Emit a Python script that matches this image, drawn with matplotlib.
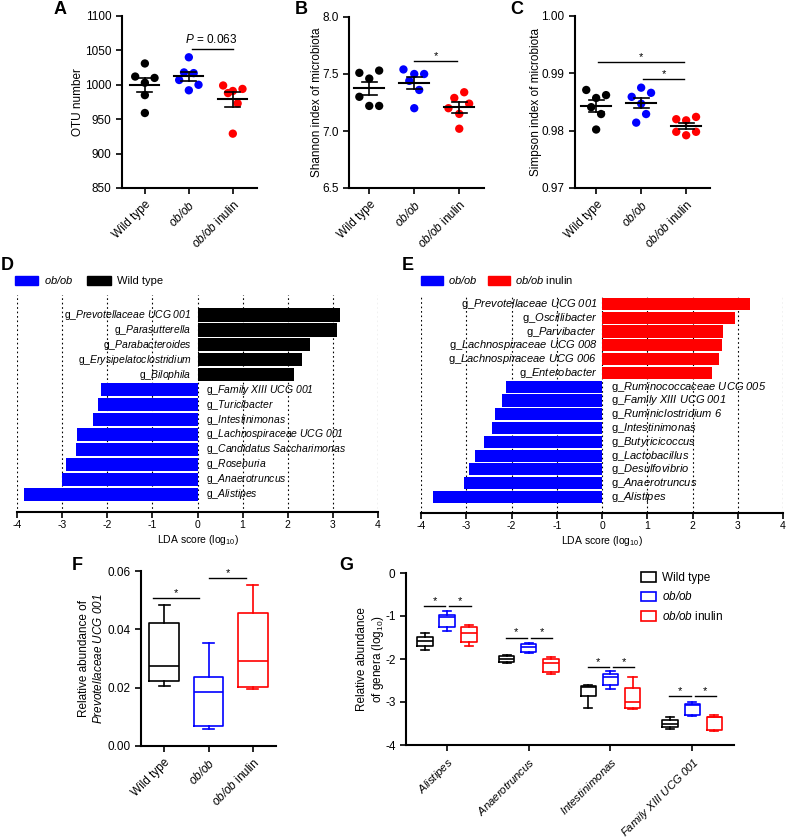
import numpy as np
import matplotlib.pyplot as plt
from matplotlib.patches import Patch

plt.rcParams['font.family'] = ['Liberation Sans', 'DejaVu Sans']
plt.rcParams['mathtext.fontset'] = 'custom'
plt.rcParams['mathtext.rm'] = 'Liberation Sans'
plt.rcParams['mathtext.it'] = 'Liberation Sans:italic'
plt.rcParams['mathtext.sf'] = 'Liberation Sans:italic'
plt.rcParams['mathtext.bf'] = 'Liberation Sans:bold'
plt.rcParams['axes.unicode_minus'] = False


def it(s):
    # italic via the sf slot so that digits and '/' are slanted too
    return r'$\mathsf{' + s.replace(' ', r'\ ') + '}$'


groups = ['Wild type', it('ob/ob'), it('ob/ob') + ' inulin']
colors = ['black', '#0000ff', '#ff0000']

# A: OTU number (6 mice per group)
otu_wt = [1031, 1012, 1010, 1003, 985, 959]
otu_ob = [1040, 1018, 1017, 1007, 1000, 992]
otu_inulin = [999, 994, 991, 988, 973, 929]
otu_spread = [[0, -0.22, 0.22, 0, 0, 0],
              [0, -0.11, 0.11, -0.22, 0.22, 0],
              [-0.22, 0.22, 0, -0.11, 0.11, 0]]

# B: Shannon index
shannon_wt = [7.51, 7.53, 7.46, 7.30, 7.22, 7.22]
shannon_ob = [7.54, 7.50, 7.50, 7.44, 7.36, 7.20]
shannon_inulin = [7.34, 7.29, 7.24, 7.20, 7.15, 7.02]
shannon_spread = [[-0.22, 0.22, 0, -0.22, 0, 0.22],
                  [-0.24, 0, 0.22, -0.11, 0.11, 0],
                  [0.11, -0.11, 0.22, -0.24, 0, 0]]

# C: Simpson index
simpson_wt = [0.9871, 0.9862, 0.9857, 0.9841, 0.9829, 0.9802]
simpson_ob = [0.9875, 0.9866, 0.9859, 0.9847, 0.9829, 0.9814]
simpson_inulin = [0.9824, 0.9820, 0.9818, 0.9798, 0.9798, 0.9792]
simpson_spread = [[-0.22, 0.22, 0, -0.11, 0.11, 0],
                  [0, 0.22, -0.21, 0, 0.11, -0.11],
                  [0.22, -0.22, 0, -0.22, 0.22, 0]]

# D: LEfSe ob/ob vs wild type
d_genera = ['Prevotellaceae UCG 001', 'Parasutterella', 'Parabacteroides',
            'Erysipelatoclostridium', 'Bilophila', 'Family XIII UCG 001',
            'Turicibacter', 'Intestinimonas', 'Lachnospiraceae UCG 001',
            'Candidatus Saccharimonas', 'Roseburia', 'Anaerotruncus', 'Alistipes']
d_lda = [3.15, 3.10, 2.49, 2.32, 2.13, -2.13, -2.21, -2.31, -2.68, -2.69,
         -2.92, -3.00, -3.85]

# E: LEfSe ob/ob vs ob/ob inulin
e_genera = ['Prevotellaceae UCG 001', 'Oscillibacter', 'Parvibacter',
            'Lachnospiraceae UCG 008', 'Lachnospiraceae UCG 006', 'Enterobacter',
            'Ruminococcaceae UCG 005', 'Family XIII UCG 001', 'Ruminiclostridium 6',
            'Intestinimonas', 'Butyricicoccus', 'Lactobacillus', 'Desulfovibrio',
            'Anaerotruncus', 'Alistipes']
e_lda = [3.28, 2.93, 2.67, 2.65, 2.58, 2.42, -2.12, -2.20, -2.37, -2.42,
         -2.61, -2.81, -2.94, -3.06, -3.73]

# F: Prevotellaceae UCG 001 relative abundance (min, q1, median, q3, max)
f_min = [0.0207, 0.0059, 0.0195]
f_q1 = [0.0223, 0.0069, 0.0203]
f_med = [0.0274, 0.0185, 0.0291]
f_q3 = [0.0422, 0.0237, 0.0456]
f_max = [0.0482, 0.0354, 0.0551]

# G: genera log10 abundance
g_genera = ['Alistipes', 'Anaerotruncus', 'Intestinimonas', 'Family XIII UCG 001']
g_wt_min = [-1.79, -2.10, -3.15, -3.63]
g_wt_q1 = [-1.70, -2.06, -2.87, -3.58]
g_wt_med = [-1.58, -2.01, -2.65, -3.51]
g_wt_q3 = [-1.48, -1.94, -2.62, -3.41]
g_wt_max = [-1.39, -1.90, -2.60, -3.34]
g_ob_min = [-1.35, -1.87, -2.69, -3.32]
g_ob_q1 = [-1.25, -1.83, -2.61, -3.30]
g_ob_med = [-1.03, -1.73, -2.41, -3.06]
g_ob_q3 = [-0.97, -1.66, -2.35, -3.04]
g_ob_max = [-0.88, -1.62, -2.29, -2.99]
g_in_min = [-1.70, -2.36, -3.16, -3.68]
g_in_q1 = [-1.60, -2.30, -3.13, -3.64]
g_in_med = [-1.39, -2.10, -2.99, -3.36]
g_in_q3 = [-1.25, -1.99, -2.67, -3.34]
g_in_max = [-1.21, -1.96, -2.43, -3.30]
g_sig_y = [-0.77, -1.50, -2.18, -2.86]

W, H = 787, 840
fig = plt.figure(figsize=(W / 100, H / 100), dpi=100)


def box(l, t, r, b):
    return [l / W, 1 - b / H, (r - l) / W, (b - t) / H]


def style_axes(ax):
    for s in ['top', 'right']:
        ax.spines[s].set_visible(False)
    for s in ['left', 'bottom']:
        ax.spines[s].set_linewidth(1.5)
    ax.tick_params(width=1.2, length=4, labelsize=8.5)


def star(ax, x0, x1, y, text='*', size=8):
    ax.plot([x0, x1], [y, y], color='black', lw=1)
    ax.text((x0 + x1) / 2, y, text, ha='center', va='bottom', fontsize=size)


def dot_panel(ax, data, spreads, ylim, yticks, ylabels, ylabel, pad):
    style_axes(ax)
    for i, (vals, sp) in enumerate(zip(data, spreads)):
        vals = np.asarray(vals)
        ax.scatter(i + np.asarray(sp), vals, s=36, color=colors[i],
                   edgecolors='none', zorder=3)
        m = vals.mean()
        se = vals.std(ddof=1) / np.sqrt(len(vals))
        ax.plot([i - 0.33, i + 0.33], [m, m], color='black', lw=1.5, zorder=4)
        for y in (m - se, m + se):
            ax.plot([i - 0.17, i + 0.17], [y, y], color='black', lw=1.2, zorder=4)
        ax.plot([i, i], [m - se, m + se], color='black', lw=1.2, zorder=4)
    ax.set_ylim(*ylim)
    ax.set_yticks(yticks)
    ax.set_yticklabels(ylabels)
    ax.set_xticks(range(3))
    ax.set_xticklabels(groups, rotation=45, ha='right', rotation_mode='anchor')
    ax.set_ylabel(ylabel, fontsize=8.5, labelpad=pad)


axA = fig.add_axes(box(122, 16, 257, 188))
dot_panel(axA, [otu_wt, otu_ob, otu_inulin], otu_spread, (850, 1100),
          [850, 900, 950, 1000, 1050, 1100],
          ['850', '900', '950', '1000', '1050', '1100'], 'OTU number', 1)
axA.set_xlim(-0.52, 2.55)
axA.plot([1.07, 2.0], [1052, 1052], color='black', lw=1)
axA.text(1.5, 1056, r'$\it{P}$ = 0.063', ha='center', va='bottom', fontsize=8.5)

axB = fig.add_axes(box(349, 17, 484, 188))
dot_panel(axB, [shannon_wt, shannon_ob, shannon_inulin], shannon_spread,
          (6.5, 8.0), [6.5, 7.0, 7.5, 8.0], ['6.5', '7.0', '7.5', '8.0'],
          'Shannon index of microbiota', -0.5)
axB.set_xlim(-0.45, 2.55)
star(axB, 1.0, 1.95, 7.614)

axC = fig.add_axes(box(575, 16, 710, 188))
dot_panel(axC, [simpson_wt, simpson_ob, simpson_inulin], simpson_spread,
          (0.97, 1.0), [0.97, 0.98, 0.99, 1.0], ['0.97', '0.98', '0.99', '1.00'],
          'Simpson index of microbiota', -0.5)
axC.set_xlim(-0.47, 2.53)
star(axC, 0.05, 1.95, 0.99195)
star(axC, 1.05, 1.95, 0.9890)


def lda_panel(ax, genera, lda, neg_color, pos_color, fs, pos_off, neg_off):
    y = np.arange(len(genera))
    cols = [pos_color if v > 0 else neg_color for v in lda]
    ax.barh(y, lda, height=0.88, color=cols, zorder=2)
    for v, g, yy in zip(lda, genera, y):
        label = 'g_' + it(g)
        if v > 0:
            ax.text(pos_off, yy, label, ha='right', va='center', fontsize=fs, zorder=3)
        else:
            ax.text(neg_off, yy, label, ha='left', va='center', fontsize=fs, zorder=3)
    ax.set_xlim(-4, 4)
    ticks = np.arange(-4, 5)
    ax.vlines(ticks, -5, 30, colors='black', linestyles=(0, (1.5, 2.5)),
              lw=0.8, zorder=0)
    ax.set_xticks(ticks)
    ax.set_yticks([])
    for s in ['top', 'right', 'left']:
        ax.spines[s].set_visible(False)
    ax.spines['bottom'].set_linewidth(1.5)
    ax.tick_params(axis='x', width=1.2, length=4, labelsize=7.5, pad=2)
    ax.set_xlabel(r'LDA score (log$_{10}$)', fontsize=7.5, labelpad=2)


axD = fig.add_axes(box(17, 295, 378, 512))
lda_panel(axD, d_genera, d_lda, '#0000ff', 'black', 7.5, -0.13, 0.18)
axD.set_ylim(13.19, -1.34)
axD.legend(handles=[Patch(color='#0000ff'), Patch(color='black')],
           labels=[it('ob/ob'), 'Wild type'], loc='center left',
           bbox_to_anchor=(15 / W, 1 - 280 / H), bbox_transform=fig.transFigure,
           ncol=2, frameon=False, fontsize=8, handlelength=2.1, handleheight=0.9,
           handletextpad=0.55, columnspacing=1.2, borderpad=0, borderaxespad=0)

axE = fig.add_axes(box(421, 295, 783, 513))
lda_panel(axE, e_genera, e_lda, '#0000ff', '#ff0000', 8, -0.11, 0.19)
axE.set_ylim(15.16, -0.65)
axE.legend(handles=[Patch(color='#0000ff'), Patch(color='#ff0000')],
           labels=[it('ob/ob'), it('ob/ob') + ' inulin'], loc='center left',
           bbox_to_anchor=(421 / W, 1 - 280 / H), bbox_transform=fig.transFigure,
           ncol=2, frameon=False, fontsize=8, handlelength=2.0, handleheight=0.9,
           handletextpad=0.45, columnspacing=0.9, borderpad=0, borderaxespad=0)


def stats(lo, q1, med, q3, hi):
    return [dict(whislo=a, q1=b, med=c, q3=d, whishi=e, fliers=[])
            for a, b, c, d, e in zip(lo, q1, med, q3, hi)]


axF = fig.add_axes(box(141, 571, 276, 746))
style_axes(axF)
for i, st in enumerate(stats(f_min, f_q1, f_med, f_q3, f_max)):
    c = colors[i]
    props = dict(color=c, lw=1.2)
    axF.bxp([st], positions=[i], widths=0.66, capwidths=0.25, showfliers=False,
            boxprops=props, whiskerprops=props, capprops=props,
            medianprops=props, manage_ticks=False)
axF.set_xlim(-0.52, 2.52)
axF.set_ylim(0, 0.06)
axF.set_yticks([0, 0.02, 0.04, 0.06])
axF.set_yticklabels(['0.00', '0.02', '0.04', '0.06'])
axF.set_xticks(range(3))
axF.set_xticklabels(groups, rotation=45, ha='right', rotation_mode='anchor')
axF.set_ylabel('Relative abundance of\n' + it('Prevotellaceae UCG 001'),
               fontsize=8.5, labelpad=2)
star(axF, -0.25, 0.78, 0.0508)
star(axF, 1.02, 1.85, 0.0575)

axG = fig.add_axes(box(406, 573, 734, 745))
style_axes(axG)
g_sets = [stats(g_wt_min, g_wt_q1, g_wt_med, g_wt_q3, g_wt_max),
          stats(g_ob_min, g_ob_q1, g_ob_med, g_ob_q3, g_ob_max),
          stats(g_in_min, g_in_q1, g_in_med, g_in_q3, g_in_max)]
offsets = [-0.27, 0, 0.27]
for k, st in enumerate(g_sets):
    props = dict(color=colors[k], lw=1.2)
    axG.bxp(st, positions=np.arange(4) + offsets[k], widths=0.19, capwidths=0.1,
            showfliers=False, boxprops=props, whiskerprops=props,
            capprops=props, medianprops=props, manage_ticks=False)
for j, y in enumerate(g_sig_y):
    star(axG, j - 0.28, j - 0.02, y)
    star(axG, j + 0.03, j + 0.29, y)
axG.set_xlim(-0.5, 3.51)
axG.set_ylim(-4, 0)
axG.set_yticks([0, -1, -2, -3, -4])
axG.set_yticklabels(['0', '-1', '-2', '-3', '-4'])
axG.set_xticks(range(4))
axG.set_xticklabels([it(g) for g in g_genera], rotation=45, ha='right',
                    rotation_mode='anchor', fontsize=8.2)
axG.set_ylabel('Relative abundance\n' + r'of genera (log$_{10}$)', fontsize=8.5,
               labelpad=-1)
axG.legend(handles=[Patch(facecolor='white', edgecolor=c, lw=1.2) for c in colors],
           labels=groups, loc='upper left', bbox_to_anchor=(641 / W, 1 - 572 / H),
           bbox_transform=fig.transFigure, frameon=False, fontsize=8.5,
           handlelength=1.3, handleheight=0.85, handletextpad=0.5,
           labelspacing=0.55, borderpad=0, borderaxespad=0)

for letter, x, y in [('A', 60, 10), ('B', 301, 10), ('C', 517, 10),
                     ('D', 7, 265), ('E', 408, 266), ('F', 77, 566), ('G', 346, 566)]:
    fig.text(x / W, 1 - y / H, letter, ha='center', va='center',
             fontsize=13, fontweight='bold')

fig.savefig('out.png', dpi=100)
